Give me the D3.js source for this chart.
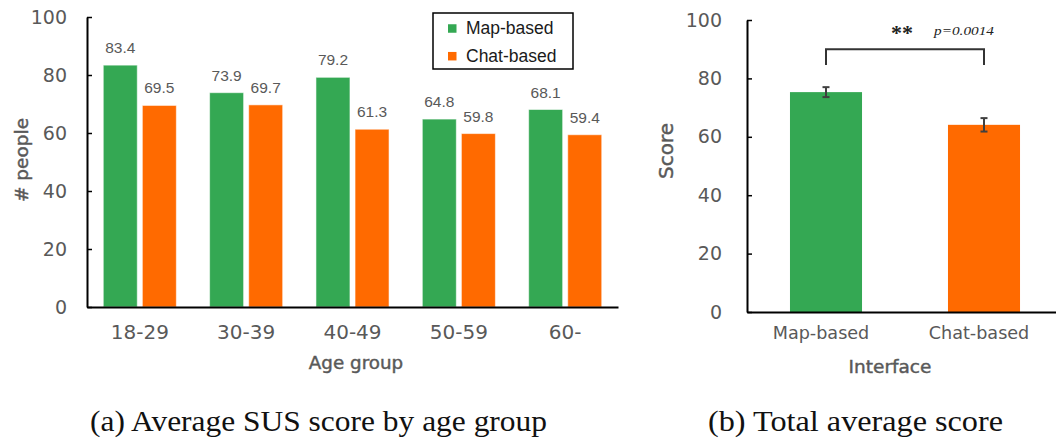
<!DOCTYPE html>
<html>
<head>
<meta charset="utf-8">
<script src="https://cdn.jsdelivr.net/npm/d3@7"></script>
<style>
  html, body { margin: 0; padding: 0; background: #fff; }
  svg { display: block; }
</style>
</head>
<body>
<svg id="chart" width="1056" height="446"></svg>
<script>
// ---- data ----
const ageGroups = ["18-29", "30-39", "40-49", "50-59", "60-"];
const interfaces = ["Map-based", "Chat-based"];
const mapScores = [83.4, 73.9, 79.2, 64.8, 68.1];
const chatScores = [69.5, 69.7, 61.3, 59.8, 59.4];
const totalMeans = [75.3, 64.1];
const totalErrors = [1.7, 2.3];
const yTicks = [0, 20, 40, 60, 80, 100];
const pValueText = "p=0.0014";
const sigMark = "**";
const captionA = "(a) Average SUS score by age group";
const captionB = "(b) Total average score";

const colors = { "Map-based": "#34a853", "Chat-based": "#ff6a00" };
const textGray = "#595959";
const gothic = "'DejaVu Sans', 'Noto Sans', sans-serif";
const serif = "'Liberation Serif', 'Times New Roman', serif";

const svg = d3.select("#chart");

function styleAxis(ax) {
  ax.select(".domain").attr("stroke", "#000").attr("stroke-width", 2);
  ax.selectAll(".tick line").attr("stroke", "#000").attr("stroke-width", 1.5);
  ax.selectAll("text").attr("font-family", gothic).attr("fill", textGray);
}

function axisTitle(g, text, size) {
  return g.append("text")
    .attr("text-anchor", "middle")
    .attr("font-family", gothic).attr("font-size", size)
    .attr("fill", textGray)
    .attr("stroke", textGray).attr("stroke-width", 0.45)
    .text(text);
}

// ================= (a) scores by age group =================
const gA = svg.append("g");
const yA = d3.scaleLinear().domain([0, 100]).range([307, 17]);
const x0 = d3.scaleBand().domain(ageGroups).range([87, 618])
  .paddingInner(0.313).paddingOuter(0.153);
const x1 = d3.scaleBand().domain(interfaces).range([0, x0.bandwidth()])
  .paddingInner(0.13).paddingOuter(0);

const rowsA = ageGroups.map((g, i) => ({
  group: g,
  values: [
    { key: "Map-based", value: mapScores[i] },
    { key: "Chat-based", value: chatScores[i] }
  ]
}));

const groupsA = gA.selectAll("g.grp").data(rowsA).join("g")
  .attr("class", "grp")
  .attr("transform", d => `translate(${x0(d.group)},0)`);

groupsA.selectAll("rect").data(d => d.values).join("rect")
  .attr("x", d => x1(d.key))
  .attr("y", d => yA(d.value))
  .attr("width", x1.bandwidth())
  .attr("height", d => yA(0) - yA(d.value))
  .attr("fill", d => colors[d.key])
  .attr("stroke", "#ffffff")
  .attr("stroke-opacity", 0.55)
  .attr("stroke-width", 1);

groupsA.selectAll("text.val").data(d => d.values).join("text")
  .attr("class", "val")
  .attr("x", d => x1(d.key) + x1.bandwidth() / 2)
  .attr("y", d => yA(d.value) - 12)
  .attr("text-anchor", "middle")
  .attr("font-family", "'Liberation Sans', Arial, sans-serif")
  .attr("font-size", 15.5)
  .attr("fill", textGray)
  .text(d => d.value.toFixed(1));

const yAxisA = gA.append("g")
  .attr("transform", "translate(87,0)")
  .call(d3.axisLeft(yA).tickValues(yTicks).tickSize(-5).tickSizeOuter(0).tickPadding(20));
const xAxisA = gA.append("g")
  .attr("transform", `translate(0,${yA(0)})`)
  .call(d3.axisBottom(x0).tickSize(0).tickPadding(18));
styleAxis(yAxisA);
styleAxis(xAxisA);
yAxisA.selectAll("text").attr("font-size", 19);
xAxisA.selectAll("text").attr("font-size", 20);

axisTitle(gA, "# people", 18.5)
  .attr("transform", "translate(28,160) rotate(-90)");
axisTitle(gA, "Age group", 18.3)
  .attr("x", 356).attr("y", 369);

// legend
const legend = gA.append("g").attr("transform", "translate(433,13)");
legend.append("rect")
  .attr("width", 140).attr("height", 56)
  .attr("fill", "#fff").attr("stroke", "#000").attr("stroke-width", 1.5);
const legItems = legend.selectAll("g.item").data(interfaces).join("g")
  .attr("class", "item")
  .attr("transform", (d, i) => `translate(15,${15.3 + i * 27.7})`);
legItems.append("rect")
  .attr("width", 8.5).attr("height", 8.5)
  .attr("y", -4.05)
  .attr("fill", d => colors[d]);
legItems.append("text")
  .attr("x", 18).attr("y", 6)
  .attr("font-family", "'Liberation Sans', Arial, sans-serif")
  .attr("font-size", 17.5).attr("fill", "#1a1a1a")
  .text(d => d);

// ================= (b) total average =================
const gB = svg.append("g");
const yB = d3.scaleLinear().domain([0, 100]).range([312, 20]);
const xB = d3.scaleBand().domain(interfaces).range([747, 1063])
  .paddingInner(0.544).paddingOuter(0.272);

const rowsB = interfaces.map((k, i) => ({ key: k, mean: totalMeans[i], err: totalErrors[i] }));

gB.selectAll("rect.bar").data(rowsB).join("rect")
  .attr("class", "bar")
  .attr("x", d => xB(d.key))
  .attr("y", d => yB(d.mean))
  .attr("width", xB.bandwidth())
  .attr("height", d => yB(0) - yB(d.mean))
  .attr("fill", d => colors[d.key]);

// error bars (mean ± error)
const eb = gB.selectAll("g.err").data(rowsB).join("g")
  .attr("class", "err")
  .attr("transform", d => `translate(${xB(d.key) + xB.bandwidth() / 2},0)`)
  .attr("stroke", "#404040").attr("stroke-width", 2);
eb.append("line").attr("y1", d => yB(d.mean + d.err)).attr("y2", d => yB(d.mean - d.err));
eb.append("line").attr("x1", -3.5).attr("x2", 3.5)
  .attr("y1", d => yB(d.mean + d.err)).attr("y2", d => yB(d.mean + d.err));
eb.append("line").attr("x1", -3.5).attr("x2", 3.5)
  .attr("y1", d => yB(d.mean - d.err)).attr("y2", d => yB(d.mean - d.err));

const yAxisB = gB.append("g")
  .attr("transform", "translate(747,0)")
  .call(d3.axisLeft(yB).tickValues(yTicks).tickSize(-5).tickSizeOuter(0).tickPadding(25));
const xAxisB = gB.append("g")
  .attr("transform", `translate(0,${yB(0)})`)
  .call(d3.axisBottom(xB).tickSize(0).tickPadding(15));
styleAxis(yAxisB);
styleAxis(xAxisB);
yAxisB.selectAll("text").attr("font-size", 19);
xAxisB.selectAll("text").attr("font-size", 17.6).attr("dx", -5);

axisTitle(gB, "Score", 20)
  .attr("transform", "translate(673,151) rotate(-90)");
axisTitle(gB, "Interface", 18.5)
  .attr("x", 890).attr("y", 373);

// significance bracket
const cx0 = xB(interfaces[0]) + xB.bandwidth() / 2;
const cx1 = xB(interfaces[1]) + xB.bandwidth() / 2;
gB.append("path")
  .attr("d", `M${cx0},65 V49.3 H${cx1} V65`)
  .attr("fill", "none").attr("stroke", "#333").attr("stroke-width", 2);
gB.append("text")
  .attr("x", 902).attr("y", 40)
  .attr("text-anchor", "middle")
  .attr("font-family", serif)
  .attr("font-size", 22).attr("font-weight", "bold").attr("fill", "#222")
  .text(sigMark);
gB.append("text")
  .attr("x", 934).attr("y", 35)
  .attr("font-family", serif)
  .attr("font-size", 13.5).attr("font-style", "italic").attr("fill", "#222")
  .attr("textLength", 60).attr("lengthAdjust", "spacingAndGlyphs")
  .text(pValueText);

// ================= captions =================
svg.append("text")
  .attr("x", 90).attr("y", 431)
  .attr("font-family", serif)
  .attr("font-size", 29).attr("fill", "#111")
  .attr("textLength", 457).attr("lengthAdjust", "spacingAndGlyphs")
  .text(captionA);
svg.append("text")
  .attr("x", 708).attr("y", 431)
  .attr("font-family", serif)
  .attr("font-size", 29).attr("fill", "#111")
  .attr("textLength", 295).attr("lengthAdjust", "spacingAndGlyphs")
  .text(captionB);
</script>
</body>
</html>
